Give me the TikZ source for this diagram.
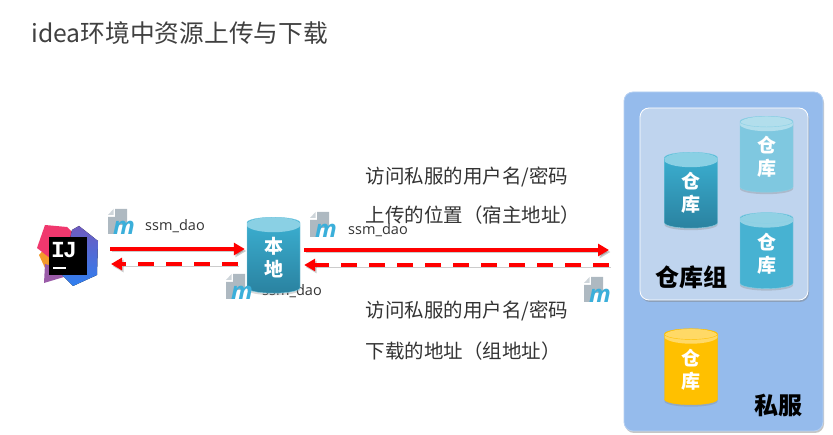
\documentclass[tikz,border=0pt]{standalone}
\usepackage{fontspec}
\setmainfont{Noto Sans CJK SC}
\newfontfamily\latinfont{Open Sans}
\newfontfamily\logofont{Liberation Mono}
\usetikzlibrary{arrows.meta, positioning, shapes.geometric, shadows}
\definecolor{srvblue}{HTML}{95BBEC}
\definecolor{srvedge}{HTML}{B5D0F2}
\definecolor{grpblue}{HTML}{BFD4EE}
\definecolor{repotop}{HTML}{3CB1D3}
\definecolor{repobot}{HTML}{2A82A0}
\definecolor{repolite}{HTML}{7FC8E0}
\definecolor{repomid}{HTML}{47B2D2}
\definecolor{repogold}{HTML}{FFC000}
\definecolor{mvngray}{HTML}{AEB9C1}
\definecolor{mvnblue}{HTML}{3BAFDA}
\definecolor{txtgray}{HTML}{333333}
\definecolor{logopink}{HTML}{F0386E}
\definecolor{logoblue}{HTML}{2F7FF0}
\definecolor{logoplum}{HTML}{6F5BC0}
\definecolor{logoorange}{HTML}{F39A2B}
\definecolor{logopurple}{HTML}{9A5BA8}
\newcommand{\fpx}[1]{\fontsize{#1}{#1}\selectfont}
\begin{document}
\begin{tikzpicture}[
   x=1pt, y=-1pt,
   node distance=20pt,
   repo/.style={cylinder, shape border rotate=90, shape aspect=.566, draw=repotop!60!white, thin,
               minimum width=53pt, minimum height=76pt, inner sep=0pt, align=center,
               text=white, font=\fpx{19}\bfseries, drop shadow={opacity=.3, shadow xshift=0pt, shadow yshift=-2pt}},
   lid/.style={path picture={\fill[#1] ([yshift=-7.5pt]path picture bounding box.north) ellipse (27pt and 7.5pt);}},
   panel/.style={rectangle, rounded corners=9pt, draw=srvedge, thick,
               drop shadow={opacity=.45, shadow xshift=1pt, shadow yshift=-2pt}},
   note/.style={anchor=west, text=txtgray, font=\fpx{19.5}},
   tag/.style={text=txtgray, font=\fpx{14.5}\latinfont},
   title/.style={text=black, font=\fpx{24}\bfseries},
   push/.style={-{Triangle[length=11pt,width=12pt]}, line width=4pt, red,
               preaction={draw=black, opacity=.2, transform canvas={shift={(1.5pt,-2pt)}}}},
   pull/.style={push, dash pattern=on 16pt off 12pt},
   mvn/.pic={
     \fill[mvngray] (7,0) -- (19,0) -- (19,16) -- (8,16) -- (7,25) -- (0,25) -- (0,8) -- (7,8) -- cycle;
     \fill[mvngray!60!white] (5.5,0) -- (5.5,6) -- (0,6) -- cycle;
     \node[text=mvnblue, font=\fpx{24}\latinfont\bfseries\itshape] (-m) at (16,19) {m};
   }]
 \useasboundingbox (0,0) rectangle (833,435);
 \node[anchor=west, text=black!75, font=\fpx{24.7}] (head) at (28,33) {idea环境中资源上传与下载};

 % labels that lie behind the shapes
 \node[tag] (tag3) at (292,291) {ssm\_dao};
 \node[tag, anchor=west] (tag4) at (621,296) {ssm\_dao};

 \node[panel, fill=srvblue, minimum width=199pt, minimum height=339pt] (srv) at (723.5,261.5) {};
 \node[panel, fill=grpblue, draw=white, minimum width=168pt, minimum height=192pt] (grp) at (724,204) {};
 \node[title] (grptxt) at (691,277) {仓库组};
 \node[title] (srvtxt) at (778,405) {私服};

 \node[repo, top color=repotop, bottom color=repobot, lid=repotop!60!white] (local) at (273.5,258) {本\\[4pt]地};
 \node[repo, top color=repotop, bottom color=repobot, lid=repotop!60!white] (repoa) at (691,193) {仓\\[4pt]库};
 \node[repo, fill=repolite, lid=repolite!60!white] (repob) at (766.5,157) {仓\\[4pt]库};
 \node[repo, fill=repomid, lid=repomid!60!white, below=20pt of repob] (repoc) {仓\\[4pt]库};
 \node[repo, fill=repogold, lid=repogold!60!white, draw=repogold] (repod) at (691,369.5) {仓\\[4pt]库};

 % idea logo
 \fill[logoorange] (39,255) -- (47,246) -- (52,265) -- (45,268) -- cycle;
 \fill[logopurple] (44,283) -- (45,264) -- (52,266) -- (64,277) -- cycle;
 \fill[logopink] (37,248) -- (45,225) -- (67,227) -- (76,236) -- (55,262) -- cycle;
 \fill[top color=logoplum, bottom color=logoblue] (72,230) -- (79,226) -- (98,241) -- (97,275) -- (73,286) -- (62,275) -- cycle;
 \node[rectangle, fill=black, minimum width=38pt, minimum height=38pt, inner sep=0pt] (ide) at (68,256) {};
 \node[text=white, font=\fpx{23}\logofont\bfseries] (idetxt) at (64,250.5) {I\kern-2pt J};
 \fill[white] (53,267) rectangle (66,269);

 \pic (mvna) at (108,209) {mvn};
 \pic (mvnb) at (310,212) {mvn};
 \pic (mvnc) at (226,274) {mvn};
 \pic (mvnd) at (584,277) {mvn};
 \node[tag] (tag1) at (175,226) {ssm\_dao};
 \node[tag] (tag2) at (378,230) {ssm\_dao};

 \node[note] (up1) at (362,177) {访问私服的用户名/密码};
 \node[note, below=38pt of up1.west, anchor=west] (up2) {上传的位置（宿主地址）};
 \node[note] (dn1) at (362,311) {访问私服的用户名/密码};
 \node[note, below=40pt of dn1.west, anchor=west] (dn2) {下载的地址（组地址）};

 \coordinate (ideout) at (110,249);
 \coordinate (idein) at (111,264);
 \coordinate (srvin) at (609,250);
 \coordinate (srvout) at (609,265);
 \draw[push, shorten >=2pt] (ideout) -- (local.west |- ideout);
 \draw[pull, shorten <=9pt] (local.west |- idein) -- (idein);
 \draw[push] (local.east |- srvin) ++(4,0) -- (srvin);
 \draw[pull, shorten >=4pt] (srvout) -- (local.east |- srvout);
\end{tikzpicture}
\end{document}
